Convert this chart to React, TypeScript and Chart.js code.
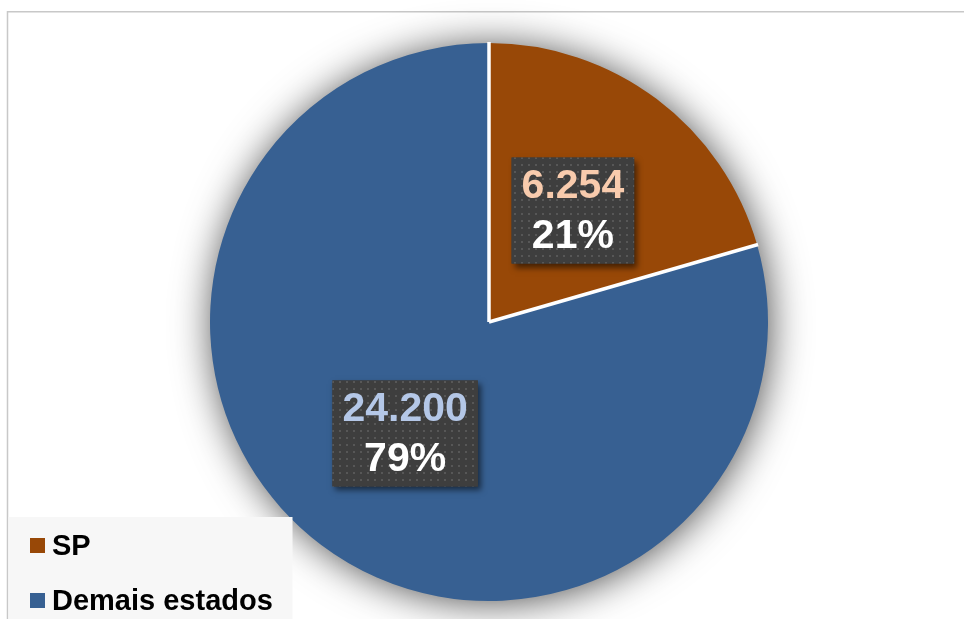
import React, { useEffect, useRef } from "react";
import { Chart, registerables } from "chart.js";

Chart.register(...registerables);

const labels = ["SP", "Demais estados"];
const values = [6254, 24200];
const valueLabels = ["6.254", "24.200"];
const sliceColors = ["#984807", "#376092"];
const valueLabelColors = ["#F8CBAD", "#B4C7E7"];

const FONT = '"Liberation Sans", Arial, sans-serif';

function makeDotPattern(ctx: CanvasRenderingContext2D) {
  const c = document.createElement("canvas");
  c.width = 7;
  c.height = 7;
  const g = c.getContext("2d")!;
  g.fillStyle = "#3e3e3e";
  g.fillRect(0, 0, 7, 7);
  g.fillStyle = "rgba(255,255,255,0.13)";
  g.fillRect(3, 3, 2, 2);
  return ctx.createPattern(c, "repeat");
}

const framePlugin = {
  id: "frame",
  beforeDraw(chart: any) {
    const ctx = chart.ctx;
    ctx.save();
    ctx.strokeStyle = "#c8c8c8";
    ctx.lineWidth = 1.5;
    ctx.beginPath();
    ctx.moveTo(7.5, chart.height);
    ctx.lineTo(7.5, 11.75);
    ctx.lineTo(chart.width, 11.75);
    ctx.stroke();
    ctx.restore();
  },
};

const shadowPlugin = {
  id: "pieShadow",
  beforeDatasetsDraw(chart: any) {
    const meta = chart.getDatasetMeta(0);
    const arc = meta.data[0];
    if (!arc) return;
    const ctx = chart.ctx;
    ctx.save();
    ctx.shadowColor = "rgba(0,0,0,0.75)";
    ctx.shadowBlur = 40;
    ctx.shadowOffsetX = 2;
    ctx.shadowOffsetY = 2;
    ctx.fillStyle = "#cfcfcf";
    ctx.beginPath();
    ctx.arc(arc.x, arc.y, arc.outerRadius - 2, 0, Math.PI * 2);
    ctx.fill();
    ctx.restore();
    ctx.save();
    ctx.fillStyle = "#ffffff";
    ctx.beginPath();
    ctx.arc(arc.x, arc.y, arc.outerRadius - 1, 0, Math.PI * 2);
    ctx.fill();
    ctx.restore();
  },
};

const separatorPlugin = {
  id: "separators",
  afterDatasetsDraw(chart: any) {
    const ctx = chart.ctx as CanvasRenderingContext2D;
    const meta = chart.getDatasetMeta(0);
    ctx.save();
    ctx.strokeStyle = "#ffffff";
    ctx.lineWidth = 3.5;
    ctx.lineCap = "butt";
    meta.data.forEach((arc: any) => {
      const r = arc.outerRadius + 1;
      ctx.beginPath();
      ctx.moveTo(arc.x, arc.y);
      ctx.lineTo(arc.x + Math.cos(arc.startAngle) * r, arc.y + Math.sin(arc.startAngle) * r);
      ctx.stroke();
    });
    ctx.restore();
  },
};

const labelPlugin = {
  id: "boxLabels",
  afterDatasetsDraw(chart: any) {
    const ctx = chart.ctx as CanvasRenderingContext2D;
    const meta = chart.getDatasetMeta(0);
    const data = chart.data.datasets[0].data as number[];
    const total = data.reduce((a, b) => a + b, 0);
    const pattern = makeDotPattern(ctx);
    meta.data.forEach((arc: any, i: number) => {
      const pos = arc.tooltipPosition();
      const line1 = valueLabels[i];
      const line2 = Math.round((data[i] / total) * 100) + "%";
      ctx.save();
      ctx.font = `bold 41px ${FONT}`;
      const w = Math.max(ctx.measureText(line1).width, ctx.measureText(line2).width) + 20;
      const h = 106;
      const x = pos.x - w / 2;
      const y = pos.y - h / 2;
      ctx.save();
      ctx.shadowColor = "rgba(0,0,0,0.55)";
      ctx.shadowBlur = 6;
      ctx.shadowOffsetX = 3;
      ctx.shadowOffsetY = 4;
      ctx.fillStyle = "#3e3e3e";
      ctx.fillRect(x, y, w, h);
      ctx.restore();
      if (pattern) {
        ctx.fillStyle = pattern;
        ctx.fillRect(x, y, w, h);
      }
      ctx.textAlign = "center";
      ctx.textBaseline = "middle";
      ctx.fillStyle = valueLabelColors[i];
      ctx.fillText(line1, pos.x, pos.y - 24);
      ctx.fillStyle = "#ffffff";
      ctx.fillText(line2, pos.x, pos.y + 26);
      ctx.restore();
    });
  },
};

const legendPlugin = {
  id: "customLegend",
  afterDraw(chart: any) {
    const ctx = chart.ctx as CanvasRenderingContext2D;
    ctx.save();
    ctx.fillStyle = "#f7f7f7";
    ctx.fillRect(8.5, 517, 284, chart.height - 517);
    const rows = [546, 601];
    labels.forEach((lab, i) => {
      const cy = rows[i];
      ctx.fillStyle = sliceColors[i];
      ctx.fillRect(30, cy - 8, 15, 15);
      ctx.fillStyle = "#000000";
      ctx.font = `bold 29px ${FONT}`;
      ctx.textAlign = "left";
      ctx.textBaseline = "alphabetic";
      ctx.fillText(lab, 52, cy + 9);
    });
    ctx.restore();
  },
};

export default function App() {
  const ref = useRef<HTMLCanvasElement | null>(null);
  useEffect(() => {
    if (!ref.current) return;
    const chart = new Chart(ref.current, {
      type: "pie",
      data: {
        labels,
        datasets: [
          {
            data: values,
            backgroundColor: sliceColors,
            borderWidth: 0,
          },
        ],
      },
      options: {
        responsive: false,
        animation: false,
        layout: { padding: { left: 210, right: 196, top: 42, bottom: 17 } },
        plugins: {
          legend: { display: false },
          tooltip: { enabled: false },
          title: { display: false },
        },
      },
      plugins: [framePlugin, shadowPlugin, separatorPlugin, labelPlugin, legendPlugin],
    });
    return () => chart.destroy();
  }, []);
  return (
    <div style={{ position: "absolute", left: 0, top: 0, width: 964, height: 619, background: "#ffffff" }}>
      <canvas ref={ref} width={964} height={619} style={{ display: "block" }} />
    </div>
  );
}
